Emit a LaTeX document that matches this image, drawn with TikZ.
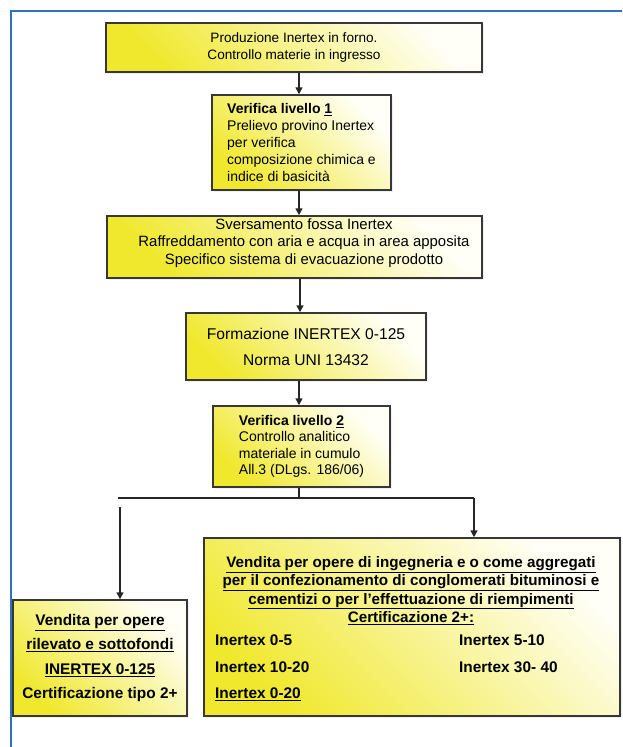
\documentclass[tikz,border=0pt]{standalone}
\usepackage{fontspec}
\setmainfont{Liberation Sans}
\usetikzlibrary{arrows.meta,shadows}
\definecolor{frameblue}{RGB}{45,115,185}
\definecolor{boxY}{RGB}{240,232,45}
\definecolor{boxW}{RGB}{255,255,248}
\definecolor{edgec}{RGB}{55,55,55}
\tikzset{
  box/.style={draw=edgec, line width=1.5pt, shading=axis, bottom color=boxY, top color=boxW,
    shading angle=-45, inner sep=0pt, anchor=center,
    drop shadow={opacity=0.12, shadow xshift=2pt, shadow yshift=-2pt}},
  conn/.style={draw=black!85, line width=1.5pt},
  arr/.style={conn, -{Triangle[length=7pt,width=7pt]}},
  txt/.style={inner sep=0pt},
}
\begin{document}
\begin{tikzpicture}[x=1pt,y=-1pt]
\useasboundingbox (0,0) rectangle (622,747);
\fill[white] (0,0) rectangle (622,747);
% frame
\coordinate (ftr) at (622,11);
\coordinate (ftl) at (11,11);
\coordinate (fbl) at (11,747);
\draw[frameblue, line width=1.6pt] (ftr) -- (ftl) -- (fbl);

% boxes
\node[box, minimum width=376pt, minimum height=49pt, align=center,
  font=\fontsize{13.6}{16.5}\selectfont] (b1) at (294,47.5)
  {Produzione Inertex in forno.\\Controllo materie in ingresso};

\node[box, minimum width=179pt, minimum height=95pt, align=left,
  font=\fontsize{14}{17}\selectfont] (b2) at (301.5,142.5)
  {\textbf{Verifica livello \underline{1}}\\Prelievo provino Inertex\\per verifica\\composizione chimica e\\indice di basicità};

\node[box, minimum width=375pt, minimum height=62pt] (b3) at (294.5,247) {};
\node[txt, align=center, font=\fontsize{14.9}{17.5}\selectfont] (t3) at (304,243)
  {Sversamento fossa Inertex\\Raffreddamento con aria e acqua in area apposita\\Specifico sistema di evacuazione prodotto};

\node[box, minimum width=240pt, minimum height=67pt, align=center,
  font=\fontsize{15.6}{26}\selectfont] (b4) at (306,346.5)
  {Formazione INERTEX 0-125\\Norma UNI 13432};

\node[box, minimum width=177pt, minimum height=81pt, align=left,
  font=\fontsize{14}{16.5}\selectfont] (b5) at (301.5,446.5)
  {\textbf{Verifica livello \underline{2}}\\Controllo analitico\\materiale in cumulo\\All.3 (DLgs. 186/06)};

\node[box, minimum width=174pt, minimum height=116pt, align=center,
  font=\bfseries\fontsize{15.4}{24.5}\selectfont] (b6) at (100,658)
  {\underline{Vendita per opere}\\\underline{rilevato e sottofondi}\\\underline{INERTEX 0-125}\\Certificazione tipo 2+};

\node[box, minimum width=416pt, minimum height=178pt] (b7) at (412,627) {};
\node[txt, align=center, font=\bfseries\fontsize{15.2}{18.4}\selectfont] (t7) at (411,590.5)
  {\underline{Vendita per opere di ingegneria e o come aggregati}\\
   \underline{per il confezionamento di conglomerati bituminosi e}\\
   \underline{cementizi o per l’effettuazione di riempimenti}\\
   \underline{Certificazione 2+:}};
\tikzset{item/.style={txt, anchor=west, font=\bfseries\fontsize{15.4}{18}\selectfont}}
\node[item] (i1) at (215,640) {Inertex 0-5};
\node[item] (i2) at (459,640) {Inertex 5-10};
\node[item] (i3) at (215,667) {Inertex 10-20};
\node[item] (i4) at (459,667) {Inertex 30- 40};
\node[item] (i5) at (215,694) {\underline{Inertex 0-20}};

% connectors
\coordinate (ax) at (299,0);
\coordinate (ax2) at (300,0);
\draw[arr] (b1.south -| ax) -- (b2.north -| ax);
\draw[arr] (b2.south -| ax) -- (b3.north -| ax);
\draw[arr] (b3.south -| ax2) -- (b4.north -| ax2);
\draw[arr] (b4.south -| ax) -- (b5.north -| ax);
\coordinate (stem) at (299,498);
\coordinate (hl) at (118,498);
\coordinate (hr) at (474,498);
\coordinate (lv) at (120,507);
\draw[conn] (b5.south -| stem) -- (stem);
\draw[conn] (hl) -- (hr);
\draw[arr] (hr) -- (b7.north -| hr);
\draw[arr] (lv) -- (b6.north -| lv);
\end{tikzpicture}
\end{document}
